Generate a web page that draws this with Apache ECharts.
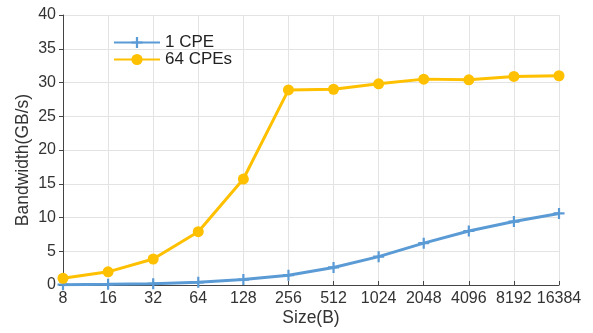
<!DOCTYPE html>
<html>
<head>
<meta charset="utf-8">
<script src="https://cdn.jsdelivr.net/npm/echarts@6/dist/echarts.min.js"></script>
<style>
  html, body { margin: 0; padding: 0; background: #fff; }
  #chart { width: 593px; height: 333px; }
</style>
</head>
<body>
<div id="chart"></div>
<script>
// Transfer sizes in bytes
const sizes = ['8', '16', '32', '64', '128', '256', '512', '1024', '2048', '4096', '8192', '16384'];
// Measured bandwidth (GB/s)
const oneCpe = [0.05, 0.1, 0.2, 0.4, 0.8, 1.45, 2.6, 4.2, 6.2, 8.0, 9.4, 10.6];
const sixtyFourCpes = [1.0, 1.95, 3.85, 7.9, 15.7, 28.9, 29.0, 29.8, 30.5, 30.4, 30.9, 31.0];
const yTicks = [0, 5, 10, 15, 20, 25, 30, 35, 40];

const plusPath = 'path://M4,0H6V4H10V6H6V10H4V6H0V4H4Z';
const font = 'Helvetica, "Liberation Sans", Arial, sans-serif';

const chart = echarts.init(document.getElementById('chart'));
chart.setOption({
  animation: false,
  textStyle: { fontFamily: font },
  grid: { left: 63, right: 34, top: 15, bottom: 48 },
  legend: {
    left: 108, top: 29, orient: 'vertical', itemGap: 0,
    itemWidth: 46, itemHeight: 14,
    textStyle: { fontSize: 17, color: '#222', fontFamily: font, lineHeight: 17 },
    data: ['1 CPE', '64 CPEs']
  },
  xAxis: {
    type: 'category', data: sizes, boundaryGap: false,
    name: 'Size(B)', nameLocation: 'middle', nameGap: 24, nameMoveOverlap: false,
    nameTextStyle: { fontSize: 17.5, color: '#333' },
    axisLine: { lineStyle: { color: '#444', width: 1 } },
    axisTick: { inside: true, length: 4, lineStyle: { color: '#444' }, alignWithLabel: true },
    axisLabel: { fontSize: 16, color: '#333', margin: 6, interval: 0 },
    splitLine: { show: true, lineStyle: { color: '#e3e3e3' } }
  },
  yAxis: {
    type: 'value', min: 0, max: 40, interval: 5,
    name: 'Bandwidth(GB/s)', nameLocation: 'middle', nameGap: 31, nameMoveOverlap: false,
    nameTextStyle: { fontSize: 17.5, color: '#333', padding: [0, 20, 0, 0] },
    axisLine: { show: true, lineStyle: { color: '#444', width: 1 } },
    axisTick: { show: true, length: 4, lineStyle: { color: '#444' } },
    axisLabel: { fontSize: 16, color: '#333', margin: 7,
      formatter: v => yTicks.includes(v) ? String(v) : '' },
    splitLine: { show: true, lineStyle: { color: '#e3e3e3' } }
  },
  series: [
    {
      name: '1 CPE', type: 'line', data: oneCpe,
      symbol: plusPath, symbolSize: 11,
      lineStyle: { color: '#5b9bd5', width: 3 },
      itemStyle: { color: '#5b9bd5' }
    },
    {
      name: '64 CPEs', type: 'line', data: sixtyFourCpes,
      symbol: 'circle', symbolSize: 11,
      lineStyle: { color: '#ffc000', width: 3 },
      itemStyle: { color: '#ffc000' }
    }
  ]
});
</script>
</body>
</html>
